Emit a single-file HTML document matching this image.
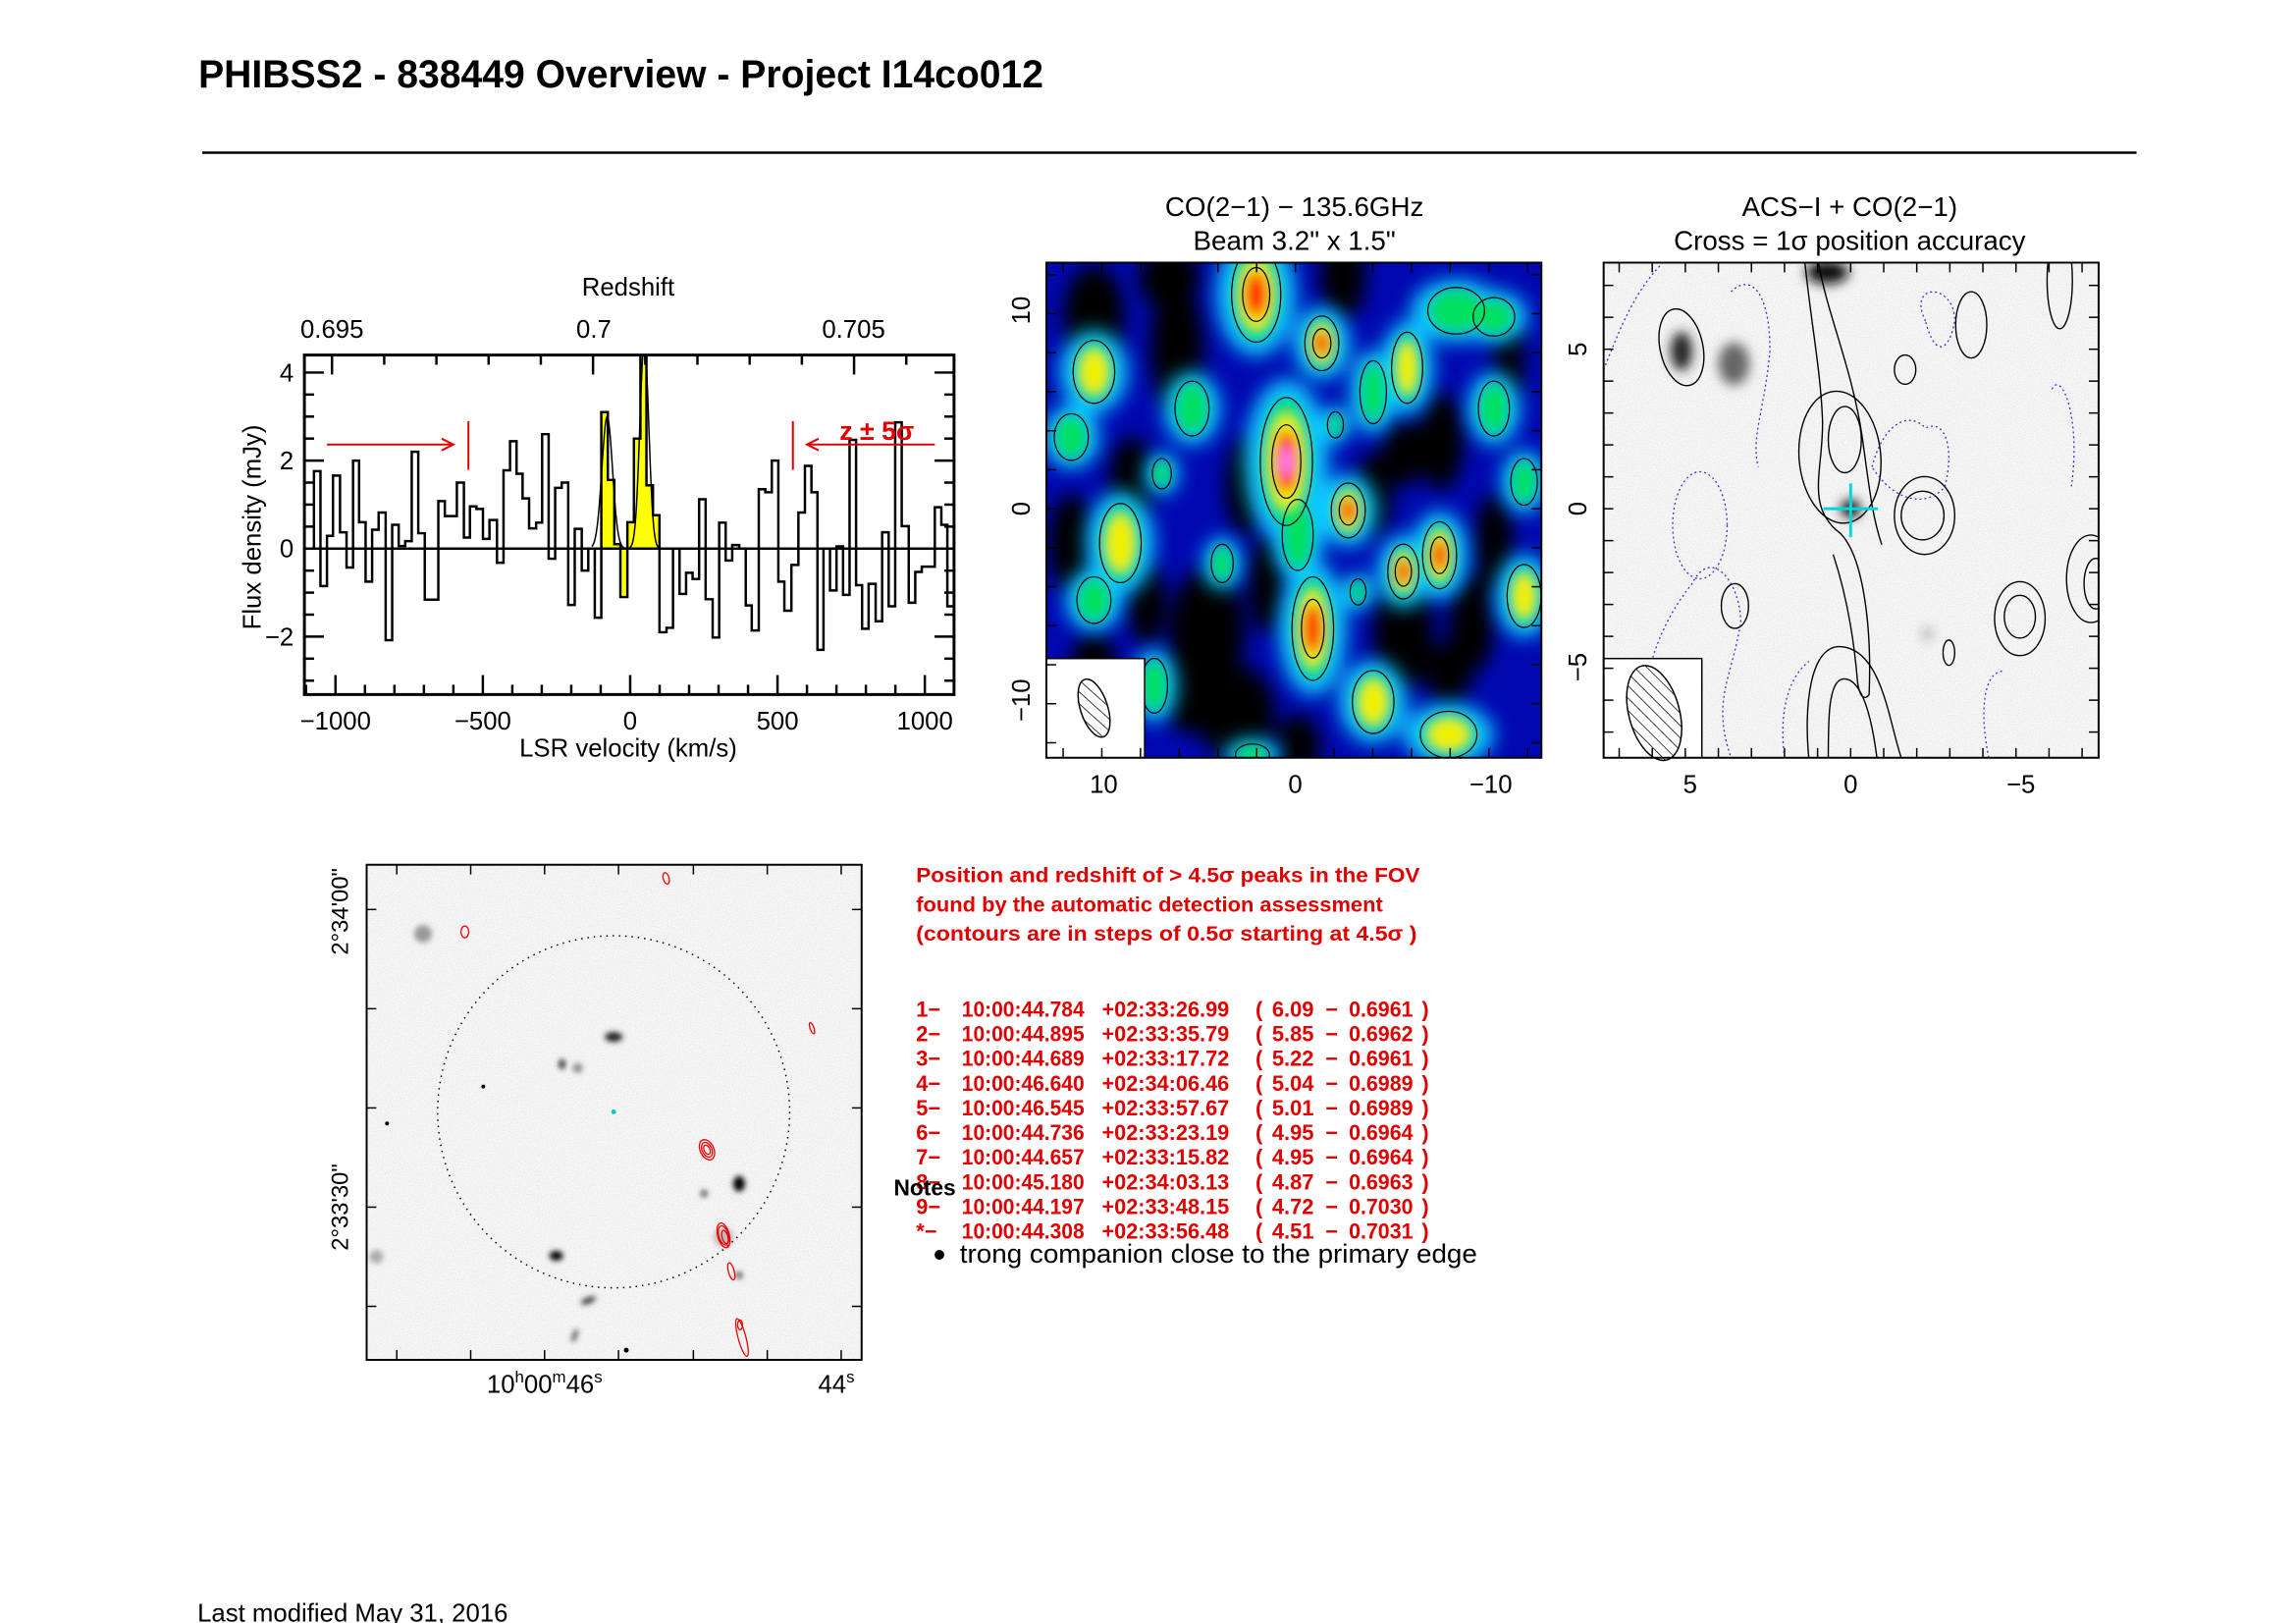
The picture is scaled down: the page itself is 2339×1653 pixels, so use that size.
<!DOCTYPE html>
<html><head><meta charset="utf-8"><style>
html,body{margin:0;padding:0;background:#fff;}
svg{display:block;}
text{font-family:"Liberation Sans",sans-serif;}
</style></head><body>
<svg id="s" width="2339" height="1653" viewBox="0 0 2339 1653" xmlns="http://www.w3.org/2000/svg">
<defs>
<filter id="b6" x="-50%" y="-50%" width="200%" height="200%"><feGaussianBlur stdDeviation="6"/></filter>
<filter id="b12" x="-50%" y="-50%" width="200%" height="200%"><feGaussianBlur stdDeviation="10"/></filter>
<filter id="b3" x="-50%" y="-50%" width="200%" height="200%"><feGaussianBlur stdDeviation="3"/></filter>
<filter id="noise"><feTurbulence type="fractalNoise" baseFrequency="0.9" numOctaves="1" seed="3"/><feColorMatrix type="matrix" values="0 0 0 0 0  0 0 0 0 0  0 0 0 0 0  0 0 0 -1.2 0.75"/></filter>
<clipPath id="c1"><rect x="1076" y="270" width="509" height="509"/></clipPath>
<clipPath id="c2"><rect x="1649" y="270" width="509" height="509"/></clipPath>
<clipPath id="c3"><rect x="377" y="889" width="509" height="509"/></clipPath>
<pattern id="hatch" width="9" height="9" patternUnits="userSpaceOnUse" patternTransform="rotate(-30)"><line x1="0" y1="0" x2="0" y2="9" stroke="#000" stroke-width="1.5"/></pattern>
</defs>
<rect width="2339" height="1653" fill="#fff"/>
<g transform="scale(0.9907)">
<text x="204" y="90" font-size="40" font-weight="bold" textLength="869" lengthAdjust="spacingAndGlyphs">PHIBSS2 - 838449 Overview - Project I14co012</text>
<line x1="208" y1="157" x2="2197" y2="157" stroke="#000" stroke-width="2.5"/>

<g id="spec"></g>

<g clip-path="url(#c1)">
<rect x="1076" y="270" width="509" height="509" fill="#0008b0"/>
<g id="m1dark" filter="url(#b12)" fill="#000"></g>
<g id="m1" ></g>
</g>
<rect x="1076" y="677" width="101" height="102" fill="#fff" stroke="#000" stroke-width="1.5"/>
<ellipse cx="1125" cy="728" rx="14" ry="31" transform="rotate(-18 1125 728)" fill="url(#hatch)" stroke="#000" stroke-width="1.5"/>
<rect x="1076" y="270" width="509" height="509" fill="none" stroke="#000" stroke-width="2"/>
<g id="m1t"></g>
<text x="1331" y="222" font-size="28" text-anchor="middle">CO(2−1) − 135.6GHz</text>
<text x="1331" y="257" font-size="28" text-anchor="middle">Beam 3.2" x 1.5"</text>
<text x="1135" y="815" font-size="26" text-anchor="middle">10</text>
<text x="1332" y="815" font-size="26" text-anchor="middle">0</text>
<text x="1533" y="815" font-size="26" text-anchor="middle">−10</text>
<text transform="translate(1059 319) rotate(-90)" font-size="26" text-anchor="middle">10</text>
<text transform="translate(1059 523) rotate(-90)" font-size="26" text-anchor="middle">0</text>
<text transform="translate(1059 720) rotate(-90)" font-size="26" text-anchor="middle">−10</text>

<g clip-path="url(#c2)">
<rect x="1649" y="270" width="509" height="509" fill="#f8f8f8"/>
<rect x="1649" y="270" width="509" height="509" filter="url(#noise)" opacity="0.15"/>
<g filter="url(#b6)">
<ellipse cx="1729" cy="361" rx="11" ry="20" fill="#222"/>
<ellipse cx="1783" cy="374" rx="16" ry="22" fill="#666"/>
<ellipse cx="1879" cy="280" rx="22" ry="12" fill="#111"/>
<ellipse cx="1903" cy="523" rx="10" ry="9" fill="#000"/>
<ellipse cx="1982" cy="652" rx="3" ry="4" fill="#333"/>
</g>
<g fill="none" stroke="#000" stroke-width="1.4">
<ellipse cx="1729" cy="357" rx="22" ry="40" transform="rotate(-12 1729 357)"/>
<ellipse cx="1897" cy="452" rx="17" ry="34"/>
<ellipse cx="1892" cy="470" rx="42" ry="68" transform="rotate(-5 1892 470)"/>
<path d="M1856 270 C1862 330 1872 380 1874 430 C1876 480 1855 520 1892 548 C1915 570 1925 640 1922 714 C1918 720 1912 718 1910 700 C1905 640 1895 600 1885 570"/>
<path d="M1870 270 C1878 320 1905 380 1915 450 C1922 500 1925 530 1935 560"/>
<ellipse cx="1977" cy="530" rx="22" ry="25"/>
<ellipse cx="1979" cy="530" rx="31" ry="40"/>
<ellipse cx="2077" cy="634" rx="16" ry="22"/>
<ellipse cx="2077" cy="636" rx="26" ry="38"/>
<ellipse cx="2150" cy="595" rx="25" ry="45"/>
<ellipse cx="2155" cy="600" rx="12" ry="26"/>
<ellipse cx="1784" cy="623" rx="14" ry="23"/>
<ellipse cx="1959" cy="380" rx="11" ry="15"/>
<ellipse cx="2027" cy="334" rx="16" ry="34"/>
<ellipse cx="2004" cy="671" rx="6" ry="13"/>
<ellipse cx="2118" cy="288" rx="13" ry="50"/>
<path d="M1880 779 C1880 740 1880 700 1895 698 C1915 696 1925 740 1930 779"/>
<path d="M1860 779 C1855 730 1860 660 1895 665 C1935 670 1942 740 1955 779"/>
</g>
<g fill="none" stroke="#33c" stroke-width="1.3" stroke-dasharray="2 3">
<path d="M1649 380 C1665 340 1680 300 1710 270"/>
<ellipse cx="1748" cy="540" rx="28" ry="55"/>
<path d="M1680 779 C1690 700 1700 650 1740 600 C1760 560 1790 600 1790 640 C1780 700 1760 720 1780 779"/>
<path d="M1780 300 C1800 280 1820 300 1820 360 C1815 420 1800 450 1808 480"/>
<path d="M1980 330 C1960 290 2010 290 2010 330 C2005 360 1990 370 1980 330"/>
<path d="M1925 480 C1935 440 1960 420 1980 440 C2000 430 2010 460 2000 500 C1985 520 1950 520 1925 480"/>
<path d="M2110 400 C2120 380 2140 430 2130 500"/>
<path d="M1835 779 C1830 740 1835 700 1860 680"/>
<path d="M2045 779 C2035 730 2040 690 2060 690"/>
</g>
</g>
<rect x="1649" y="677" width="101" height="102" fill="#fff" stroke="#000" stroke-width="1.5"/>
<ellipse cx="1701" cy="733" rx="26" ry="50" transform="rotate(-15 1701 733)" fill="url(#hatch)" stroke="#000" stroke-width="1.5"/>
<g stroke="#00d8d8" stroke-width="3"><line x1="1875" y1="523" x2="1931" y2="523"/><line x1="1903" y1="497" x2="1903" y2="552"/></g>
<rect x="1649" y="270" width="509" height="509" fill="none" stroke="#000" stroke-width="2"/>
<g id="m2t"></g>
<text x="1902" y="222" font-size="28" text-anchor="middle">ACS−I + CO(2−1)</text>
<text x="1902" y="257" font-size="28" text-anchor="middle">Cross = 1σ position accuracy</text>
<text x="1738" y="815" font-size="26" text-anchor="middle">5</text>
<text x="1903" y="815" font-size="26" text-anchor="middle">0</text>
<text x="2078" y="815" font-size="26" text-anchor="middle">−5</text>
<text transform="translate(1631 359) rotate(-90)" font-size="26" text-anchor="middle">5</text>
<text transform="translate(1631 523) rotate(-90)" font-size="26" text-anchor="middle">0</text>
<text transform="translate(1631 686) rotate(-90)" font-size="26" text-anchor="middle">−5</text>

<g clip-path="url(#c3)">
<rect x="377" y="889" width="509" height="509" fill="#f8f8f8"/>
<rect x="377" y="889" width="509" height="509" filter="url(#noise)" opacity="0.15"/>
<g filter="url(#b3)">
<circle cx="435" cy="960" r="9" fill="#999"/>
<ellipse cx="631" cy="1066" rx="9" ry="5" fill="#222"/>
<ellipse cx="578" cy="1094" rx="3" ry="5" fill="#111"/>
<circle cx="594" cy="1098" r="5" fill="#888"/>
<ellipse cx="760" cy="1217" rx="6" ry="8" fill="#000"/>
<circle cx="724" cy="1227" r="3" fill="#111"/>
<ellipse cx="572" cy="1291" rx="7" ry="5" fill="#000"/>
<circle cx="744" cy="1272" r="10" fill="#bbb"/>
<circle cx="760" cy="1311" r="3" fill="#111"/>
<ellipse cx="605" cy="1337" rx="8" ry="3" fill="#333" transform="rotate(-20 605 1337)"/>
<ellipse cx="591" cy="1373" rx="2" ry="7" fill="#333" transform="rotate(20 591 1373)"/>
<circle cx="387" cy="1292" r="7" fill="#aaa"/>
</g>
<circle cx="497" cy="1117" r="2" fill="#000"/>
<circle cx="398" cy="1155" r="2" fill="#000"/>
<circle cx="644" cy="1388" r="2.5" fill="#000"/>
<circle cx="631" cy="1143" r="2.5" fill="#0cc"/>
<circle cx="631" cy="1143" r="181" fill="none" stroke="#000" stroke-width="1.5" stroke-dasharray="1.5 5"/>
<g fill="none" stroke="#e00" stroke-width="1.3">
<ellipse cx="685" cy="903" rx="3" ry="6" transform="rotate(-15 685 903)"/>
<ellipse cx="478" cy="958" rx="4" ry="6"/>
<ellipse cx="727" cy="1182" rx="7" ry="11" transform="rotate(-25 727 1182)"/>
<ellipse cx="727" cy="1182" rx="5" ry="8" transform="rotate(-25 727 1182)"/>
<ellipse cx="727" cy="1182" rx="3" ry="5" transform="rotate(-25 727 1182)"/>
<ellipse cx="744" cy="1270" rx="6" ry="13" transform="rotate(-15 744 1270)"/>
<ellipse cx="744" cy="1270" rx="5" ry="10" transform="rotate(-15 744 1270)"/>
<ellipse cx="745" cy="1272" rx="3" ry="7" transform="rotate(-15 744 1270)"/>
<ellipse cx="752" cy="1307" rx="3" ry="9" transform="rotate(-15 752 1307)"/>
<ellipse cx="763" cy="1375" rx="4" ry="20" transform="rotate(-15 763 1375)"/>
<ellipse cx="761" cy="1362" rx="2.5" ry="5"/>
<ellipse cx="835" cy="1057" rx="2" ry="6" transform="rotate(-20 835 1057)"/>
</g>
</g>
<rect x="377" y="889" width="509" height="509" fill="none" stroke="#000" stroke-width="2"/>
<g id="bt"></g>
<text transform="translate(358 937) rotate(-90)" font-size="24" text-anchor="middle">2°34'00"</text>
<text transform="translate(358 1241) rotate(-90)" font-size="24" text-anchor="middle">2°33'30"</text>
<text x="560" y="1432" font-size="26" text-anchor="middle">10<tspan dy="-11" font-size="17">h</tspan><tspan dy="11">00</tspan><tspan dy="-11" font-size="17">m</tspan><tspan dy="11">46</tspan><tspan dy="-11" font-size="17">s</tspan></text>
<text x="860" y="1432" font-size="26" text-anchor="middle">44<tspan dy="-11" font-size="17">s</tspan></text>

<g fill="#e00000" font-size="21" font-weight="bold">
<text x="942" y="907" textLength="518" lengthAdjust="spacingAndGlyphs">Position and redshift of &gt; 4.5σ peaks in the FOV</text>
<text x="942" y="937" textLength="480" lengthAdjust="spacingAndGlyphs">found by the automatic detection assessment</text>
<text x="942" y="967" textLength="515" lengthAdjust="spacingAndGlyphs">(contours are in steps of 0.5σ starting at 4.5σ )</text>
</g>
<g id="list" fill="#e00000" font-size="22" font-weight="bold"></g>
<text x="919" y="1229" font-size="23" font-weight="bold">Notes</text>
<circle cx="966" cy="1290" r="5" fill="#000"/>
<text x="987" y="1298" font-size="27" textLength="532" lengthAdjust="spacingAndGlyphs">trong companion close to the primary edge</text>
<text x="203" y="1667" font-size="26">Last modified May 31, 2016</text>
</g>
</svg>
<script>
var NS="http://www.w3.org/2000/svg";
function el(p,n,a,t){var e=document.createElementNS(NS,n);for(var k in a)e.setAttribute(k,a[k]);if(t!=null)e.textContent=t;p.appendChild(e);return e;}
var sp=document.getElementById('spec');
var L=313,R=981,T=365,B=714;
function vx(v){return 648+v*0.303;}
function zx(z){return 345+(z-275)*0.5157;}
function fy(f){return 564-f*45.25;}
var edges=[232,245,258,270,284,297,310,322,335,348,361,375,388,401,414,427,440,453,480,493,517,531,543,556,569,582,597,610,623,636,648,661,675,687,700,713,726,739,752,766,779,792,805,818,831,843,857,870,883,895,908,921,935,948,961,974,987,1000,1013,1027,1040,1053,1066,1080,1093,1105,1119,1132,1145,1158,1170,1184,1198,1211,1224,1236,1248,1261,1274,1287,1300,1313,1325,1338,1352,1365,1378,1391,1404,1418,1431,1444,1457,1470,1483,1495,1508];
var vals=[1.76,-0.85,0.29,1.66,0.37,-0.43,2.0,0.6,-0.75,0.43,0.82,-2.08,0.54,0.06,0.17,2.2,0.35,-1.16,1.08,0.74,1.5,0.25,0.96,0.9,0.22,0.65,-0.32,1.78,2.44,1.7,1.14,0.46,0.59,2.6,-0.23,1.38,1.5,-1.28,0.45,-0.5,0,-1.57,3.1,1.56,0.1,-1.1,0.6,2.5,4.6,1.44,0.76,-1.9,-1.8,0,-1.03,-0.55,-0.69,1.12,-1.15,-2.02,0.59,-0.27,0.08,0,-1.29,-1.86,1.35,1.28,2.0,-0.75,-1.41,-0.37,0.82,1.88,1.28,-2.3,0,-0.95,0.05,-1.05,2.47,-0.83,-1.82,-0.8,-1.65,0.37,-1.31,2.87,0.51,-1.23,-0.53,-0.41,-0.41,0.94,0.54,-1.31];
var g=el(sp,'g',{});
for(var i=0;i<vals.length;i++){if(edges[i]>=805&&edges[i+1]<=921){var x1=zx(edges[i]),x2=zx(edges[i+1]),y=fy(Math.min(vals[i],4.4));el(g,'rect',{x:x1,y:Math.min(y,564),width:x2-x1,height:Math.abs(y-564),fill:'#ffff00'});}}
var d='M'+L+' '+fy(0)+' L'+zx(edges[0])+' '+fy(0);
for(var i=0;i<vals.length;i++){var y=fy(Math.max(-3.3,Math.min(vals[i],4.45)));d+=' L'+zx(edges[i])+' '+y+' L'+zx(edges[i+1])+' '+y;}
d+=' L'+zx(edges[vals.length])+' '+fy(0);
var cp=el(sp,'clipPath',{id:'cs'});el(cp,'rect',{x:L,y:T,width:R-L,height:B-T});
el(sp,'line',{x1:L,y1:fy(0),x2:R,y2:fy(0),stroke:'#000','stroke-width':2.5});
var gd='';for(var v=-130;v<=150;v+=3){var f=3.0*Math.exp(-Math.pow((v+78)/18,2)/2)+4.7*Math.exp(-Math.pow((v-48)/15,2)/2);gd+=(gd?' L':'M')+vx(v)+' '+fy(f);}
el(sp,'path',{d:gd,fill:'none',stroke:'#000','stroke-width':1.5,'clip-path':'url(#cs)'});
el(sp,'path',{d:d,fill:'none',stroke:'#000','stroke-width':2.5,'clip-path':'url(#cs)'});
el(sp,'rect',{x:L,y:T,width:R-L,height:B-T,fill:'none',stroke:'#000','stroke-width':3});
for(var v=-1100;v<=1100;v+=100){var x=vx(v);if(x<L||x>R)continue;var len=(v%500==0)?20:10;el(sp,'line',{x1:x,y1:B,x2:x,y2:B-len,stroke:'#000','stroke-width':2.5});}
for(var f=-3;f<=4.4;f+=0.5){var y=fy(f);var len=(Math.abs(f%2)<0.01)?20:10;el(sp,'line',{x1:L,y1:y,x2:L+len,y2:y,stroke:'#000','stroke-width':2.5});el(sp,'line',{x1:R,y1:y,x2:R-len,y2:y,stroke:'#000','stroke-width':2.5});}
for(var z=268;z<1450;z+=104.1){var x=zx(z);var maj=(Math.abs(z-268)<1||Math.abs(z-788.5)<3||Math.abs(z-1309)<3);el(sp,'line',{x1:x,y1:T,x2:x,y2:T+(maj?20:10),stroke:'#000','stroke-width':2.5});}
[[-1000,'−1000'],[-500,'−500'],[0,'0'],[500,'500'],[1000,'1000']].forEach(function(a){el(sp,'text',{x:vx(a[0]),y:750,'font-size':26,'text-anchor':'middle'},a[1]);});
el(sp,'text',{x:646,y:778,'font-size':26,'text-anchor':'middle'},'LSR velocity (km/s)');
[[4,'4'],[2,'2'],[0,'0'],[-2,'−2']].forEach(function(a){el(sp,'text',{x:302,y:fy(a[0])+9,'font-size':26,'text-anchor':'end'},a[1]);});
el(sp,'text',{transform:'translate(268 542) rotate(-90)','font-size':26,'text-anchor':'middle'},'Flux density (mJy)');
el(sp,'text',{x:646,y:304,'font-size':26,'text-anchor':'middle'},'Redshift');
[[zx(268),'0.695'],[zx(790),'0.7'],[zx(1308),'0.705']].forEach(function(a){el(sp,'text',{x:a[0],y:347,'font-size':26,'text-anchor':'middle'},a[1]);});
var red='#e00000';
el(sp,'line',{x1:zx(258),y1:457,x2:zx(505),y2:457,stroke:red,'stroke-width':2});
el(sp,'path',{d:'M'+(zx(510)-12)+' 451 L'+zx(510)+' 457 L'+(zx(510)-12)+' 463',fill:'none',stroke:red,'stroke-width':2});
el(sp,'line',{x1:zx(540),y1:433,x2:zx(540),y2:483,stroke:red,'stroke-width':2});
el(sp,'line',{x1:zx(1187),y1:433,x2:zx(1187),y2:483,stroke:red,'stroke-width':2});
el(sp,'line',{x1:zx(1218),y1:457,x2:zx(1470),y2:457,stroke:red,'stroke-width':2});
el(sp,'path',{d:'M'+(zx(1215)+12)+' 451 L'+zx(1215)+' 457 L'+(zx(1215)+12)+' 463',fill:'none',stroke:red,'stroke-width':2});
el(sp,'text',{x:zx(1280),y:452,'font-size':27,fill:red,'font-weight':'bold'},'z ± 5σ');
function m1(zxx,zy){return [1076+(zxx-87)*0.776,270+(zy-212)*0.419];}
var dk=document.getElementById('m1dark');
[[150,340,40,60],[260,420,35,80],[120,900,30,60],[300,1120,50,80],[200,740,30,50],[610,650,30,60],[560,1120,40,70],[650,1100,30,60],[340,1320,50,60],[480,250,30,50],[250,250,40,40],[700,450,20,50],[520,780,25,50],[380,1000,25,60],[150,1200,30,40],[420,1400,30,40],[680,900,25,60],[560,680,30,40],[350,760,25,60],[280,1250,40,60],[620,1220,30,40],[220,1050,25,50]].forEach(function(a){var p=m1(a[0],a[1]);el(dk,'ellipse',{cx:p[0],cy:p[1],rx:a[2]*0.776,ry:a[3]*0.419*2});});
var m=document.getElementById('m1');
var blobs=[[405,700,32,150,4],[365,290,30,110,3],[452,410,20,60,3],[487,820,20,60,3],[440,1110,25,120,3],[560,970,18,60,3],[608,930,20,75,3],[150,480,25,70,2],[280,570,20,60,1],[120,640,20,50,1],[185,900,25,90,2],[150,1040,20,50,1],[320,950,12,40,1],[520,530,15,70,1],[565,470,18,80,2],[630,330,35,50,1],[680,345,25,40,1],[680,570,18,60,1],[720,750,15,50,1],[720,1030,20,70,2],[520,1290,25,70,2],[620,1370,35,50,2],[470,610,8,25,1],[500,1020,8,25,1],[230,1250,15,60,1],[360,1420,20,20,1],[420,880,18,80,1],[240,730,10,30,1]];
var fxg=el(m,'g',{filter:'url(#b12)'});
blobs.forEach(function(b){var p=m1(b[0],b[1]);el(fxg,'ellipse',{cx:p[0],cy:p[1],rx:b[2]*0.776*1.5+6,ry:b[3]*0.419*1.25+6,fill:'#10c8ff'});});
var fg=el(m,'g',{filter:'url(#b6)'});
var cols=['#00e060','#f0f000','#ff3000','#ff80ff'];
blobs.forEach(function(b){var p=m1(b[0],b[1]);for(var l=0;l<b[4];l++){var s=1-l*0.25;el(fg,'ellipse',{cx:p[0],cy:p[1],rx:b[2]*0.776*s,ry:b[3]*0.419*s,fill:cols[l]});}});
blobs.forEach(function(b){var p=m1(b[0],b[1]);el(m,'ellipse',{cx:p[0],cy:p[1],rx:b[2]*0.776+2,ry:b[3]*0.419+3,fill:'none',stroke:'#000','stroke-width':1.2});if(b[4]>=3)el(m,'ellipse',{cx:p[0],cy:p[1],rx:b[2]*0.776*0.6,ry:b[3]*0.419*0.6,fill:'none',stroke:'#000','stroke-width':1.2});});
function ticks(id,L,T,S,xs,ys){var g=document.getElementById(id);xs.forEach(function(x){el(g,'line',{x1:x,y1:T+S,x2:x,y2:T+S-10,stroke:'#000','stroke-width':1.5});el(g,'line',{x1:x,y1:T,x2:x,y2:T+10,stroke:'#000','stroke-width':1.5});});ys.forEach(function(y){el(g,'line',{x1:L,y1:y,x2:L+10,y2:y,stroke:'#000','stroke-width':1.5});el(g,'line',{x1:L+S,y1:y,x2:L+S-10,y2:y,stroke:'#000','stroke-width':1.5});});}
var a=[],b=[];for(var k=-12;k<=12;k+=2){var x=1332-k*19.9;if(x>1078&&x<1583)a.push(x);var y=523-k*20.05;if(y>272&&y<777)b.push(y);}
ticks('m1t',1076,270,509,a,b);
a=[];b=[];for(var k=-7;k<=7;k++){var x=1903-k*34;if(x>1651&&x<2156)a.push(x);var y=523-k*32.8;if(y>272&&y<777)b.push(y);}
ticks('m2t',1649,270,509,a,b);
ticks('bt',377,889,509,[408,484,560,636,713,789,865],[935,1037,1139,1241,1343]);
var rows=[['1−','10:00:44.784','+02:33:26.99','6.09','0.6961'],['2−','10:00:44.895','+02:33:35.79','5.85','0.6962'],['3−','10:00:44.689','+02:33:17.72','5.22','0.6961'],['4−','10:00:46.640','+02:34:06.46','5.04','0.6989'],['5−','10:00:46.545','+02:33:57.67','5.01','0.6989'],['6−','10:00:44.736','+02:33:23.19','4.95','0.6964'],['7−','10:00:44.657','+02:33:15.82','4.95','0.6964'],['8−','10:00:45.180','+02:34:03.13','4.87','0.6963'],['9−','10:00:44.197','+02:33:48.15','4.72','0.7030'],['*−','10:00:44.308','+02:33:56.48','4.51','0.7031']];
var lg=document.getElementById('list');
rows.forEach(function(r,i){var y=1045+i*25.4;el(lg,'text',{x:942,y:y},r[0]);el(lg,'text',{x:989,y:y,textLength:126,lengthAdjust:'spacingAndGlyphs'},r[1]);el(lg,'text',{x:1133,y:y,textLength:131,lengthAdjust:'spacingAndGlyphs'},r[2]);el(lg,'text',{x:1291,y:y},'(');el(lg,'text',{x:1308,y:y,textLength:43,lengthAdjust:'spacingAndGlyphs'},r[3]);el(lg,'text',{x:1363,y:y},'−');el(lg,'text',{x:1387,y:y,textLength:66,lengthAdjust:'spacingAndGlyphs'},r[4]);el(lg,'text',{x:1462,y:y},')');});
</script>
</body></html>
